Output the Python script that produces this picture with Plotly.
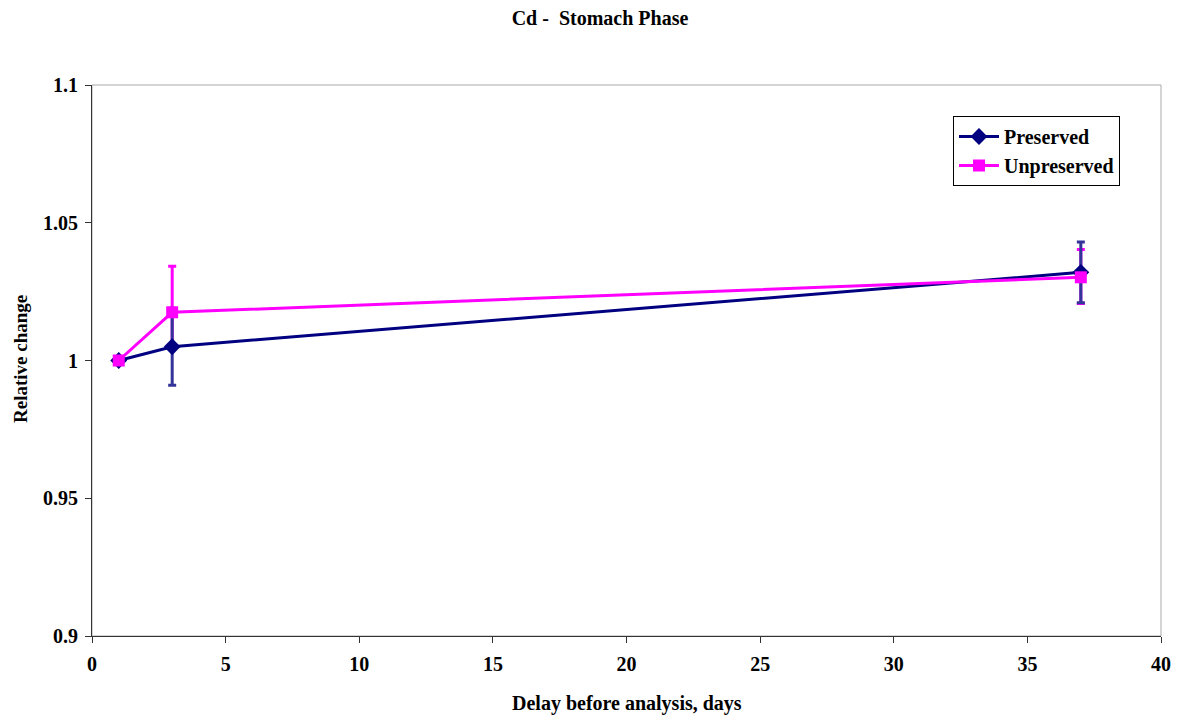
import plotly.graph_objects as go

days = [1, 3, 37]
preserved = [1.0, 1.005, 1.032]
preserved_err = [None, 0.014, 0.011]
unpreserved = [1.0, 1.0175, 1.0302]
unpreserved_err_plus = [None, 0.0167, 0.0101]
unpreserved_err_minus = [None, 0.0125, 0.0095]

y_ticks = [0.9, 0.95, 1.0, 1.05, 1.1]
y_ticktext = ["0.9", "0.95", "1", "1.05", "1.1"]
x_ticks = [0, 5, 10, 15, 20, 25, 30, 35, 40]

font = "Liberation Serif, Times New Roman, serif"

fig = go.Figure()
# pink error bars drawn first (underneath)
fig.add_trace(go.Scatter(
    x=days, y=unpreserved, mode="markers", showlegend=False, hoverinfo="skip",
    marker=dict(size=1, color="rgba(0,0,0,0)"),
    error_y=dict(type="data", symmetric=False, array=unpreserved_err_plus,
                 arrayminus=unpreserved_err_minus, visible=True,
                 color="#FF00FF", thickness=3, width=4),
))
fig.add_trace(go.Scatter(
    x=days, y=preserved, name="<b>Preserved</b>", mode="lines+markers",
    line=dict(color="#000080", width=3),
    marker=dict(symbol="diamond", size=13, color="#000080"),
    error_y=dict(type="data", array=preserved_err, visible=True,
                 color="#333399", thickness=3, width=4),
))
fig.add_trace(go.Scatter(
    x=days, y=unpreserved, name="<b>Unpreserved</b>", mode="lines+markers",
    line=dict(color="#FF00FF", width=3),
    marker=dict(symbol="square", size=12, color="#FF00FF"),
))

fig.add_shape(type="rect", xref="paper", yref="paper", x0=0, y0=0, x1=1, y1=1,
              line=dict(color="#aaaaaa", width=1), layer="below")

fig.add_annotation(text="<b>Delay before analysis, days</b>", xref="paper", yref="paper",
                   x=0.5, y=-(703 - 636) / 551, xanchor="center", yanchor="middle",
                   showarrow=False, font=dict(size=20))
fig.add_annotation(text="<b>Relative change</b>", xref="paper", yref="paper",
                   x=-(92 - 20) / 1069, y=(636 - 359) / 551, xanchor="center", yanchor="middle",
                   textangle=-90, showarrow=False, font=dict(size=19))

fig.update_layout(
    width=1182, height=716,
    margin=dict(l=92, r=21, t=85, b=80, autoexpand=False),
    paper_bgcolor="white", plot_bgcolor="white",
    font=dict(family=font, size=18, color="black"),
    title=dict(text="<b>Cd -  Stomach Phase</b>", x=(600 - 0) / 1182, xanchor="center",
               y=1 - 18 / 716, yanchor="middle", font=dict(size=20)),
    showlegend=True,
    legend=dict(x=(953 - 92) / 1069, y=(636 - 116) / 551, xanchor="left", yanchor="top",
                bordercolor="black", borderwidth=1, bgcolor="white",
                font=dict(size=20), tracegroupgap=0, itemwidth=40),
    xaxis=dict(range=[0, 40], tickvals=x_ticks, showgrid=False, zeroline=False,
               showline=True, linecolor="#333333", linewidth=1,
               ticks="outside", ticklen=6, tickcolor="#333333",
               ticklabelstandoff=4,
               tickfont=dict(size=20, weight="bold")),
    yaxis=dict(range=[0.9, 1.1], tickvals=y_ticks, ticktext=y_ticktext,
               showgrid=False, zeroline=False,
               showline=True, linecolor="#333333", linewidth=1,
               ticks="outside", ticklen=6, tickcolor="#333333",
               ticklabelstandoff=3,
               tickfont=dict(size=20, weight="bold")),
)

fig.write_html("out.html")
